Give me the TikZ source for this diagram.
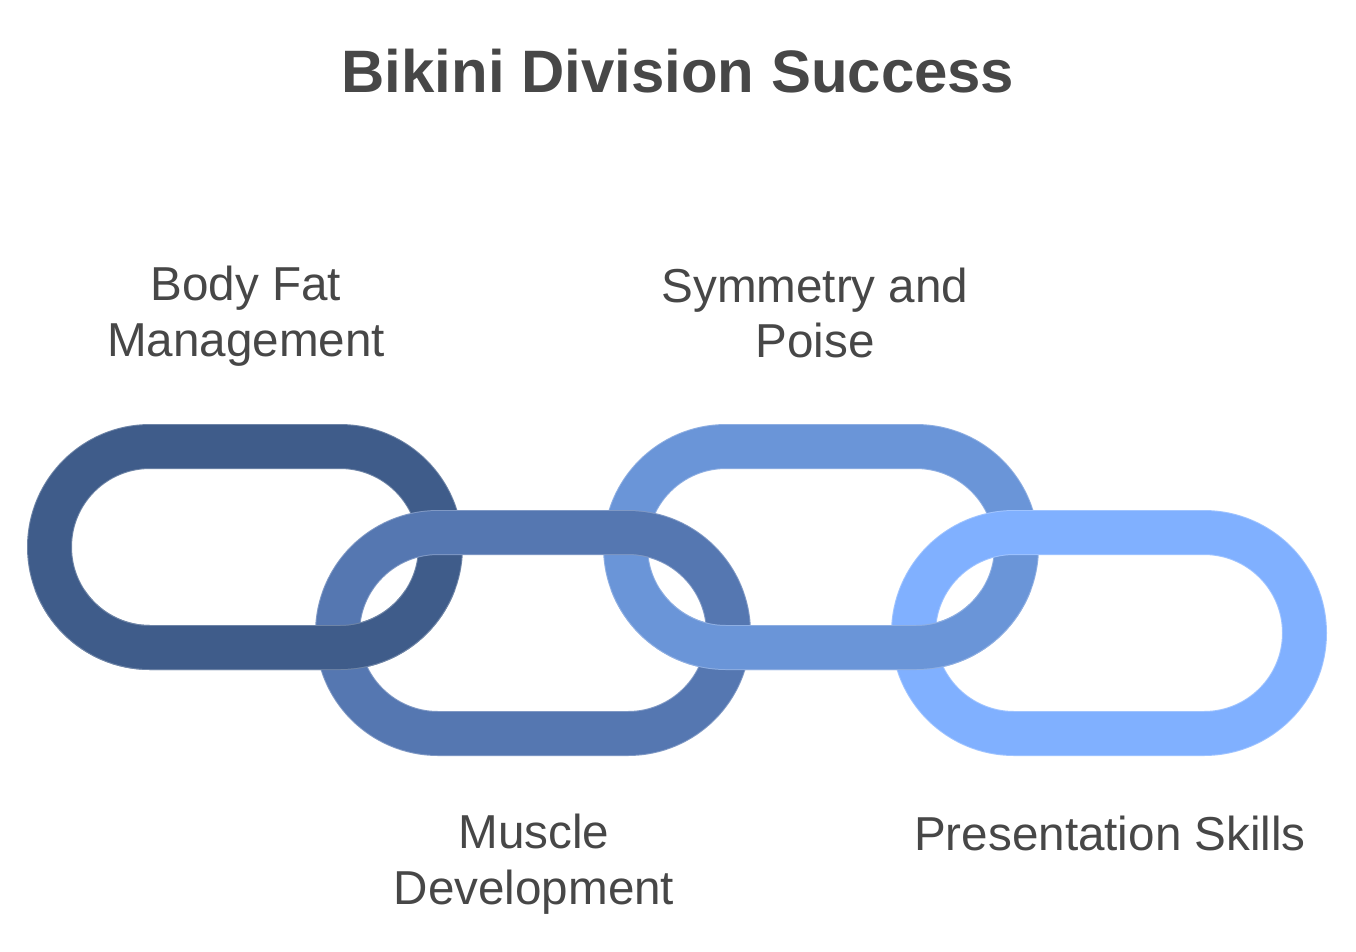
\documentclass[tikz,border=0pt]{standalone}
\usepackage{fontspec}
\setmainfont{Liberation Sans}
\usetikzlibrary{positioning}
\definecolor{linkA}{HTML}{3F5C8A}
\definecolor{linkB}{HTML}{5577B1}
\definecolor{linkC}{HTML}{6A95D8}
\definecolor{linkD}{HTML}{80B0FF}
\definecolor{ink}{HTML}{474747}
\tikzset{
  caption/.style={text=ink,font=\fontsize{27.1}{31.6}\selectfont,align=center,inner sep=0pt},
  heading/.style={text=ink,font=\fontsize{34.1}{40}\selectfont\bfseries,inner sep=0pt},
  % one chain link, centred on the pic origin
  pics/link/.style={code={
    \draw[line width=0.02cm,draw=#1!75!white,double=#1,double distance=0.86cm,
      rounded corners=2.01cm] (-195.5,-100.5) rectangle (195.5,100.5);
  }},
  pics/link/.default=linkA,
}
\begin{document}
\begin{tikzpicture}[x=0.02cm,y=-0.02cm]
    \useasboundingbox (0,0) rectangle (1356,951);
    \node[heading,anchor=base] (title) at (678,92) {Bikini Division Success};
    % upper links first, then the lower ones over them
    \pic at (245,547) {link=linkA};
    \pic at (821,547) {link=linkC};
    \pic at (533,633) {link=linkB};
    \pic at (1109,633) {link=linkD};
    % bottom bars of the upper links pass over the lower links
    \begin{scope}
      \clip (0,590) rectangle (1356,700);
      \pic at (245,547) {link=linkA};
      \pic at (821,547) {link=linkC};
    \end{scope}
    \node[caption] (fat) at (246,316) {Body Fat\\Management};
    \node[caption] (poise) at (815,313) {Symmetry and\\Poise};
    \node[caption] (muscle) at (534,864) {Muscle\\Development};
    \node[caption,anchor=base] (skills) at (1110,850) {Presentation Skills};
\end{tikzpicture}
\end{document}
